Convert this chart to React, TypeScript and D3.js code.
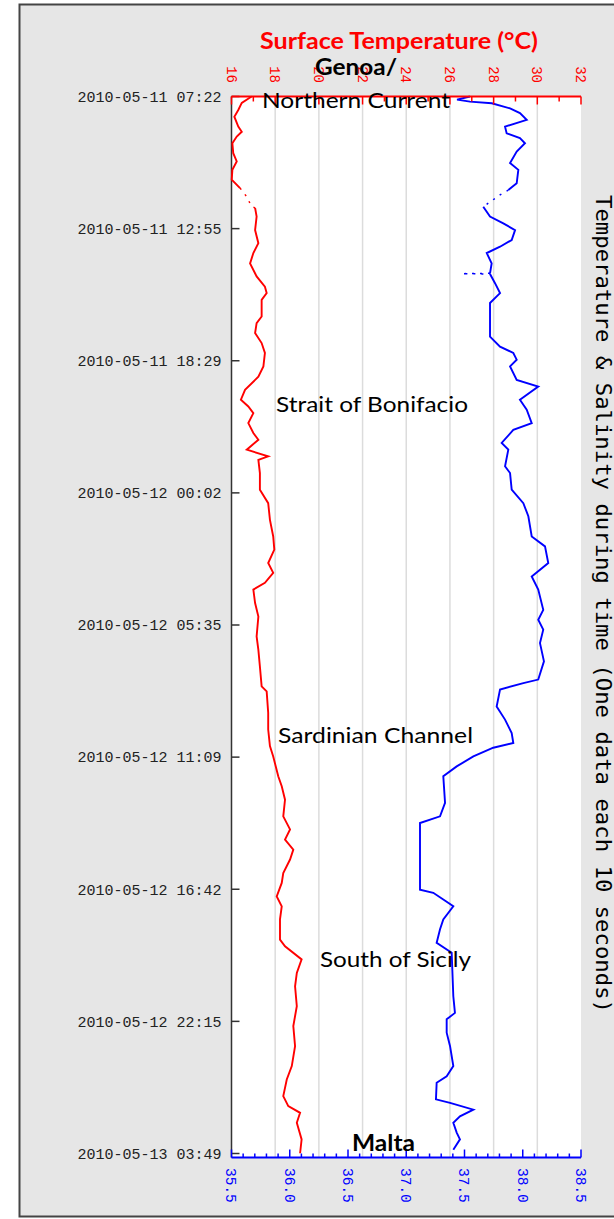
import React, { useEffect, useRef } from 'react';
import * as d3 from 'd3';

// one record each 10 seconds, time ticks every 2000 records
const startTime = new Date(2010, 4, 11, 7, 22, 30);
const tickStepSeconds = 20000;
const timeTickCount = 9;

const tempDomain = [16, 32];
const salDomain = [35.5, 38.5];

// surface temperature (°C), minutes after start
const tempMinutes = [0, 16, 34, 51, 76, 89, 101, 118, 143, 164, 185, 210, 231, 253, 278, 281, 303, 337, 370, 395,
  421, 454, 480, 496, 513, 555, 572, 597, 622, 647, 681, 707, 740, 765, 782, 799, 824, 849, 866, 891,
  908, 917, 950, 992, 1026, 1068, 1110, 1143, 1177, 1202, 1227, 1244, 1278, 1312, 1362, 1396, 1438, 1488, 1501, 1555,
  1597, 1639, 1665, 1715, 1740, 1774, 1816, 1849, 1875, 1900, 1925, 1959, 1984, 2018, 2043, 2076, 2127, 2144, 2177, 2211,
  2245, 2295, 2345, 2396, 2446, 2480, 2522, 2547, 2564, 2589, 2631, 2666];
const tempValues = [16.92, 16.47, 16.31, 16.13, 16.31, 16.47, 16.24, 16.04, 16.08, 16.24, 16.04, 16.01, 16.39, 16.7, 16.92, 17.08, 17.15, 17.08, 17.23, 17.0,
  16.85, 17.15, 17.53, 17.61, 17.38, 17.38, 17.15, 17.08, 17.38, 17.53, 17.46, 17.23, 16.62, 16.43, 16.77, 17.0, 16.77, 17.0, 17.23, 16.7,
  17.68, 17.23, 17.3, 17.3, 17.68, 17.76, 17.91, 17.96, 17.68, 17.91, 17.53, 17.0, 17.08, 17.23, 17.15, 17.23, 17.3, 17.38, 17.61, 17.68,
  17.68, 17.76, 17.91, 18.14, 18.3, 18.45, 18.37, 18.68, 18.45, 18.83, 18.68, 18.37, 18.3, 18.07, 18.3, 18.22, 18.22, 18.45, 19.21, 18.99,
  18.91, 18.99, 18.83, 18.91, 18.76, 18.53, 18.37, 18.6, 19.14, 18.99, 19.21, 19.14];
const tempSparse = [[231, 281]];

// salinity, minutes after start
const salMinutes = [0, 8, 13, 17, 30, 42, 59, 76, 93, 105, 118, 139, 168, 185, 219, 236, 248, 263, 278, 303,
  320, 337, 362, 379, 395, 421, 446, 447, 448, 471, 496, 521, 572, 606, 631, 647, 664, 681, 715, 732,
  765, 790, 824, 841, 874, 891, 933, 950, 992, 1026, 1059, 1110, 1135, 1177, 1211, 1244, 1295, 1320, 1345, 1379,
  1425, 1471, 1480, 1496, 1539, 1572, 1606, 1631, 1643, 1665, 1690, 1715, 1782, 1816, 1833, 2001, 2009, 2026, 2043, 2076,
  2101, 2135, 2160, 2270, 2312, 2328, 2362, 2396, 2446, 2472, 2488, 2530, 2539, 2556, 2573, 2589, 2614, 2631, 2657];
const salValues = [37.547, 37.436, 37.547, 37.734, 37.891, 37.976, 38.034, 37.848, 37.862, 37.976, 38.019, 37.948, 37.891, 37.962, 37.948, 37.876, 37.805, 37.734, 37.661, 37.719,
  37.833, 37.934, 37.905, 37.805, 37.691, 37.733, 37.719, 37.476, 37.719, 37.762, 37.805, 37.719, 37.719, 37.719, 37.805, 37.919, 37.948, 37.891, 37.948, 38.133,
  37.976, 38.034, 38.077, 37.919, 37.819, 37.876, 37.848, 37.891, 37.905, 38.005, 38.048, 38.077, 38.191, 38.219, 38.077, 38.133, 38.176, 38.133, 38.176, 38.148,
  38.182, 38.133, 38.005, 37.805, 37.776, 37.848, 37.905, 37.919, 37.747, 37.576, 37.433, 37.318, 37.333, 37.29, 37.118, 37.118, 37.232, 37.318, 37.404, 37.318,
  37.29, 37.261, 37.39, 37.404, 37.418, 37.347, 37.347, 37.376, 37.404, 37.347, 37.261, 37.255, 37.376, 37.576, 37.461, 37.404, 37.433, 37.461, 37.404];
const salSparse = [[236, 278], [446, 448]];

const places = [
  { text: 'Genoa/', bold: true, x: 315, y: 75, w: 82 },
  { text: 'Northern Current', bold: false, x: 262, y: 108, w: 188 },
  { text: 'Strait of Bonifacio', bold: false, x: 276, y: 412, w: 192 },
  { text: 'Sardinian Channel', bold: false, x: 278, y: 743, w: 195 },
  { text: 'South of Sicily', bold: false, x: 320, y: 967, w: 151 },
  { text: 'Malta', bold: true, x: 352, y: 1151, w: 63 },
];

const W = 614;
const H = 1219;
const left = 231.5;
const right = 581;
const top = 96.5;
const bottom = 1153.5;
const mono = "'Liberation Mono', 'DejaVu Sans Mono', monospace";
const titleMono = "'DejaVu Sans Mono', monospace";
const sans = 'Lato, sans-serif';

const App = () => {
  const ref = useRef<SVGSVGElement>(null);

  useEffect(() => {
    const svg = d3.select(ref.current);
    svg.selectAll('*').remove();

    const at = (m: number) => new Date(+startTime + m * 60000);
    const endTime = new Date(+startTime + (timeTickCount - 1) * tickStepSeconds * 1000);
    const y = d3.scaleTime().domain([startTime, endTime]).range([top, bottom]);
    const xT = d3.scaleLinear().domain(tempDomain).range([left, right]);
    const xS = d3.scaleLinear().domain(salDomain).range([left, right]);
    const axisBottom = bottom + 4;

    // frame
    svg.append('rect').attr('x', 19.5).attr('y', 4.5).attr('width', W).attr('height', 1212)
      .attr('fill', '#e6e6e6').attr('stroke', '#444').attr('stroke-width', 2);
    svg.append('rect').attr('x', left).attr('y', top).attr('width', right - left).attr('height', axisBottom - top)
      .attr('fill', '#fff');

    // grid
    svg.append('g').selectAll('line').data(d3.range(18, 31, 2)).join('line')
      .attr('x1', d => xT(d)).attr('x2', d => xT(d)).attr('y1', top).attr('y2', axisBottom)
      .attr('stroke', '#dcdcdc').attr('stroke-width', 1.5);

    // time axis
    const timeTicks = d3.range(timeTickCount).map(i => new Date(+startTime + i * tickStepSeconds * 1000));
    const fmt = d3.timeFormat('%Y-%m-%d %H:%M');
    svg.append('line').attr('x1', left).attr('x2', left).attr('y1', top).attr('y2', axisBottom)
      .attr('stroke', '#333').attr('stroke-width', 1.5);
    const tg = svg.append('g');
    tg.selectAll('line').data(timeTicks).join('line')
      .attr('x1', left).attr('x2', left + 8).attr('y1', d => y(d)).attr('y2', d => y(d))
      .attr('stroke', '#333').attr('stroke-width', 1.5);
    tg.selectAll('text').data(timeTicks).join('text')
      .attr('x', 221.5).attr('y', d => y(d)).attr('dy', '0.35em').attr('text-anchor', 'end')
      .attr('font-family', mono).attr('font-size', 15).attr('fill', '#222')
      .text(d => fmt(d));

    // lines
    const drawSeries = (mins: number[], vals: number[], sparse: number[][], x: d3.ScaleLinear<number, number>, color: string) => {
      const pts = mins.map((m, i) => [m, vals[i]] as [number, number]);
      const inside = (m: number) => sparse.some(([a, b]) => m > a && m < b);
      const solid = d3.line<[number, number]>()
        .defined(d => !inside(d[0]))
        .x(d => x(d[1])).y(d => y(at(d[0])));
      const plain = d3.line<[number, number]>().x(d => x(d[1])).y(d => y(at(d[0])));
      sparse.forEach(([a, b]) => {
        svg.append('path').datum(pts.filter(d => d[0] >= a && d[0] <= b))
          .attr('fill', 'none').attr('stroke', color).attr('stroke-width', 1.5)
          .attr('stroke-dasharray', '2,6').attr('d', plain);
      });
      svg.append('path').datum(pts)
        .attr('fill', 'none').attr('stroke', color).attr('stroke-width', 1.9)
        .attr('stroke-linejoin', 'miter').attr('d', solid);
    };
    drawSeries(tempMinutes, tempValues, tempSparse, xT, '#ff0000');
    drawSeries(salMinutes, salValues, salSparse, xS, '#0000ff');

    // top axis: temperature
    const ta = svg.append('g');
    ta.append('line').attr('x1', left).attr('x2', right).attr('y1', top).attr('y2', top)
      .attr('stroke', '#ff0000').attr('stroke-width', 2);
    ta.selectAll('line.tick').data(xT.ticks(16)).join('line').attr('class', 'tick')
      .attr('x1', d => xT(d)).attr('x2', d => xT(d)).attr('y1', top)
      .attr('y2', d => top + (d % 2 === 0 ? 8 : 5))
      .attr('stroke', '#ff0000').attr('stroke-width', 1.5);
    ta.selectAll('text').data(d3.range(16, 33, 2)).join('text')
      .attr('transform', d => `translate(${xT(d)},83) rotate(90)`)
      .attr('text-anchor', 'end').attr('dy', '0.35em')
      .attr('font-family', mono).attr('font-size', 14).attr('fill', '#ff0000')
      .text(d => String(d));

    // bottom axis: salinity
    const ba = svg.append('g');
    ba.append('line').attr('x1', left).attr('x2', right).attr('y1', axisBottom).attr('y2', axisBottom)
      .attr('stroke', '#0000ff').attr('stroke-width', 2);
    ba.selectAll('line.tick').data(xS.ticks(30)).join('line').attr('class', 'tick')
      .attr('x1', d => xS(d)).attr('x2', d => xS(d)).attr('y1', axisBottom)
      .attr('y2', d => axisBottom - (Math.round(d * 10) % 5 === 0 ? 8 : 4))
      .attr('stroke', '#0000ff').attr('stroke-width', 1.5);
    ba.selectAll('text').data(d3.range(35.5, 38.51, 0.5)).join('text')
      .attr('transform', d => `translate(${xS(d)},1168) rotate(90)`)
      .attr('dy', '0.35em')
      .attr('font-family', mono).attr('font-size', 14.5).attr('fill', '#0000ff')
      .text(d => d3.format('.1f')(d));

    // titles
    svg.append('text').attr('x', 260).attr('y', 48.5).attr('textLength', 278).attr('lengthAdjust', 'spacingAndGlyphs')
      .attr('font-family', sans).attr('font-weight', 'bold').attr('font-size', 23).attr('fill', '#ff0000')
      .text('Surface Temperature (°C)');
    svg.append('text').attr('transform', 'translate(596,195) rotate(90)')
      .attr('textLength', 818).attr('lengthAdjust', 'spacingAndGlyphs')
      .attr('font-family', titleMono).attr('font-size', 21).attr('fill', '#000')
      .text('Temperature & Salinity during time (One data each 10 seconds)');

    // places
    svg.append('g').selectAll('text').data(places).join('text')
      .attr('x', d => d.x).attr('y', d => d.y)
      .attr('textLength', d => d.w).attr('lengthAdjust', 'spacingAndGlyphs')
      .attr('font-family', sans).attr('font-size', d => (d.bold ? 23 : 22))
      .attr('font-weight', d => (d.bold ? 'bold' : 'normal')).attr('fill', '#000')
      .text(d => d.text);
  }, []);

  return <svg ref={ref} width={W} height={H} style={{ position: 'absolute', left: 0, top: 0, background: '#fff' }}></svg>;
};

export default App;
